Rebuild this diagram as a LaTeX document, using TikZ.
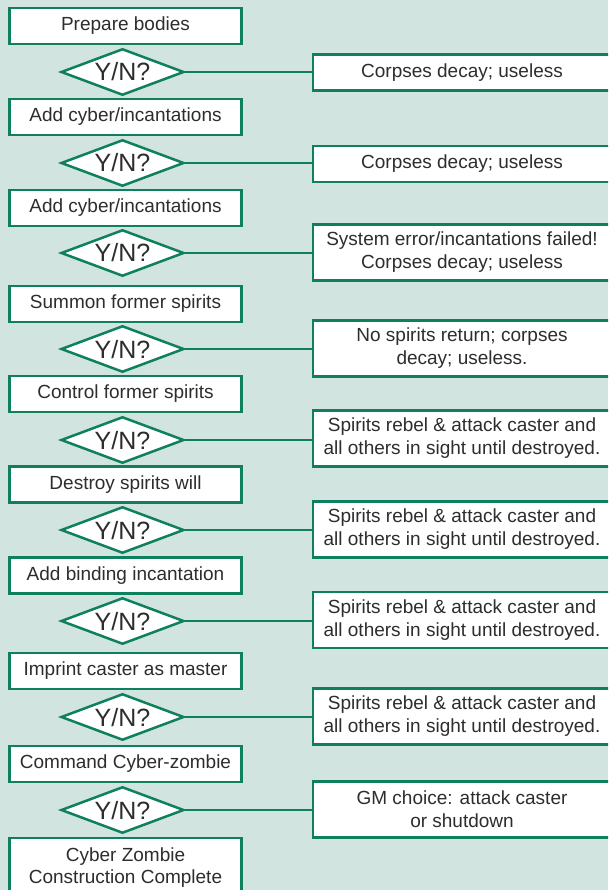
\documentclass[tikz,border=0pt]{standalone}
\usepackage{fontspec}
\setmainfont{Liberation Sans}
\usetikzlibrary{shapes.geometric}
\definecolor{bgc}{RGB}{209,228,223}
\definecolor{grn}{RGB}{14,128,94}
\definecolor{txt}{RGB}{45,45,45}
\tikzset{
  stepbox/.style={rectangle, draw=grn, fill=white, line width=2.5pt, minimum width=232pt, minimum height=36pt, inner sep=0pt, text=txt, align=center, font=\fontsize{19}{22}\selectfont},
  decbox/.style={diamond, shape aspect=2.64, draw=grn, fill=white, line width=2.5pt, minimum width=123pt, minimum height=46.5pt, inner sep=0pt, text=txt, font=\fontsize{25}{28}\selectfont},
  outbox/.style={rectangle, draw=grn, fill=white, line width=2.5pt, minimum width=298pt, minimum height=36pt, inner sep=0pt, text=txt, align=center, font=\fontsize{19}{23}\selectfont},
  outtall/.style={outbox, minimum height=56pt},
  link/.style={draw=grn, line width=2pt}
}
\begin{document}
\begin{tikzpicture}[x=1pt, y=-1pt]
\useasboundingbox (0,0) rectangle (608,890);
\clip (0,0) rectangle (608,890);
\fill[bgc] (0,0) rectangle (608,890);
% left column
\node[stepbox] (L1) at (125.5,26) {Prepare bodies};
\node[stepbox] (L2) at (125.5,117) {Add cyber/incantations};
\node[stepbox] (L3) at (125.5,208) {Add cyber/incantations};
\node[stepbox] (L4) at (125.5,304) {Summon former spirits};
\node[stepbox] (L5) at (125.5,394) {Control former spirits};
\node[stepbox] (L6) at (125.5,484.5) {Destroy spirits will};
\node[stepbox] (L7) at (125.5,575.5) {Add binding incantation};
\node[stepbox] (L8) at (125.5,671) {Imprint caster as master};
\node[stepbox] (L9) at (125.5,764) {Command Cyber-zombie};
\node[stepbox, minimum height=56pt, text depth=0pt] (L10) at (125.5,866) {Cyber Zombie\\Construction Complete};
% diamonds
\foreach \i/\y in {1/72,2/163,3/253,4/349,5/440,6/530,7/621,8/717,9/810}{
  \node[decbox] (D\i) at (122.5,\y) {\smash{\raisebox{-9pt}{Y/N?}}};
}
% outcomes
\node[outbox] (R1) at (462,72.5) {Corpses decay; useless};
\node[outbox] (R2) at (462,164) {Corpses decay; useless};
\node[outtall] (R3) at (462,252.5) {System error/incantations failed!\\Corpses decay; useless};
\node[outtall] (R4) at (462,348.5) {No spirits return; corpses\\decay; useless.};
\node[outtall] (R5) at (462,438.5) {Spirits rebel \& attack caster and\\all others in sight until destroyed.};
\node[outtall] (R6) at (462,529.5) {Spirits rebel \& attack caster and\\all others in sight until destroyed.};
\node[outtall] (R7) at (462,620) {Spirits rebel \& attack caster and\\all others in sight until destroyed.};
\node[outtall] (R8) at (462,716.5) {Spirits rebel \& attack caster and\\all others in sight until destroyed.};
\node[outtall] (R9) at (462,809.5) {GM choice: attack caster\\or shutdown};
% connectors
\foreach \i in {1,...,9}{
  \draw[link] (D\i.east) -- (D\i.east -| R\i.west);
}
\end{tikzpicture}
\end{document}
